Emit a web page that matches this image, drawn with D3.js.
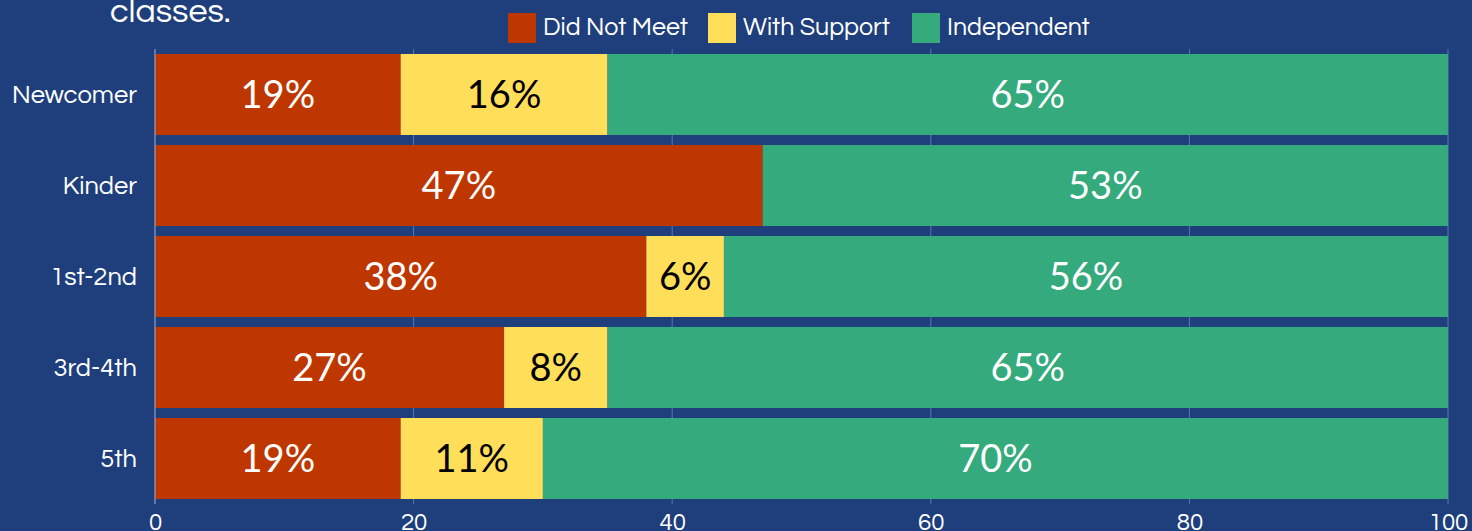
<!DOCTYPE html>
<html>
<head>
<meta charset="utf-8">
<script src="https://cdn.jsdelivr.net/npm/d3@7"></script>
<style>
  body { margin: 0; background: #1f3f7c; overflow: hidden; }
  svg { display: block; }
  .tick text { fill: #fff; }
</style>
</head>
<body>
<svg width="1472" height="531"></svg>
<script>
const grades = ['Newcomer', 'Kinder', '1st-2nd', '3rd-4th', '5th'];
const didNotMeet = [19, 47, 38, 27, 19];
const withSupport = [16, 0, 6, 8, 11];
const independent = [65, 53, 56, 65, 70];
const seriesNames = ['Did Not Meet', 'With Support', 'Independent'];
const seriesColors = ['#bf3700', '#ffde59', '#34aa7d'];
const labelColors = ['#fff', '#000', '#fff'];
const xTicks = [0, 20, 40, 60, 80, 100];

const svg = d3.select('svg');
const width = +svg.attr('width');

const margin = {top: 49, right: 24, bottom: 27, left: 155};
const innerWidth = width - margin.left - margin.right;
const innerHeight = 531 - margin.top - margin.bottom;

const rows = grades.map((g, i) => ({
    grade: g,
    'Did Not Meet': didNotMeet[i],
    'With Support': withSupport[i],
    'Independent': independent[i]
}));
const stacked = d3.stack().keys(seriesNames)(rows);

const xScale = d3.scaleLinear().domain([0, 100]).range([0, innerWidth]);
const yScale = d3.scaleBand().domain(grades).range([0, innerHeight])
    .paddingInner(0.11).paddingOuter(0.055);
const color = d3.scaleOrdinal().domain(seriesNames).range(seriesColors);

const g = svg.append('g')
    .attr('transform', `translate(${margin.left}, ${margin.top})`);

// grid lines
g.selectAll('.grid').data(xTicks.slice(1)).enter().append('line')
    .attr('x1', d => xScale(d)).attr('x2', d => xScale(d))
    .attr('y1', 0).attr('y2', innerHeight)
    .attr('stroke', '#5a76a8').attr('stroke-width', 1);

const layer = g.selectAll('.layer').data(stacked).enter().append('g')
    .attr('fill', d => color(d.key));

layer.selectAll('rect').data(d => d).enter().append('rect')
    .attr('x', d => xScale(d[0]))
    .attr('y', d => yScale(d.data.grade))
    .attr('width', d => xScale(d[1]) - xScale(d[0]))
    .attr('height', yScale.bandwidth());

stacked.forEach((s, si) => {
    g.selectAll('.lbl' + si).data(s.filter(d => d[1] - d[0] > 0)).enter().append('text')
        .attr('x', d => xScale((d[0] + d[1]) / 2))
        .attr('y', d => yScale(d.data.grade) + yScale.bandwidth() / 2)
        .attr('dy', '0.35em')
        .attr('text-anchor', 'middle')
        .style('font-family', 'Lato, sans-serif')
        .style('font-size', '38px')
        .attr('fill', labelColors[si])
        .text(d => (d[1] - d[0]) + '%');
});

// y axis
const yAxisG = g.append('g').call(d3.axisLeft(yScale).tickSize(0).tickPadding(18));
yAxisG.select('.domain').remove();
yAxisG.selectAll('text')
    .style('font-family', 'Questrial, "Noto Sans", sans-serif')
    .style('font-size', '25.5px');
g.append('line').attr('x1', 0).attr('x2', 0).attr('y1', 0).attr('y2', innerHeight)
    .attr('stroke', '#9fb2d4').attr('stroke-width', 1);

// x axis
const xAxisG = g.append('g')
    .attr('transform', `translate(0, ${innerHeight})`)
    .call(d3.axisBottom(xScale).tickValues(xTicks).tickSize(0).tickPadding(9));
xAxisG.select('.domain').remove();
xAxisG.selectAll('text')
    .style('font-family', 'Questrial, "Noto Sans", sans-serif')
    .style('font-size', '24px');

// title remnant
svg.append('text')
    .attr('x', 110).attr('y', 22)
    .attr('fill', '#fff')
    .style('font-family', 'Questrial, "Noto Sans", sans-serif')
    .style('font-size', '34px')
    .text('classes.');

// legend
const legendX = [508, 708, 912];
const legend = svg.selectAll('.legend').data(seriesNames).enter().append('g')
    .attr('transform', (d, i) => `translate(${legendX[i]}, 13)`);
legend.append('rect').attr('width', 28).attr('height', 30).attr('fill', d => color(d));
legend.append('text')
    .attr('x', 35).attr('y', 13).attr('dy', '0.35em')
    .attr('fill', '#fff')
    .style('font-family', 'Questrial, "Noto Sans", sans-serif')
    .style('font-size', '25px')
    .text(d => d);
</script>
</body>
</html>
